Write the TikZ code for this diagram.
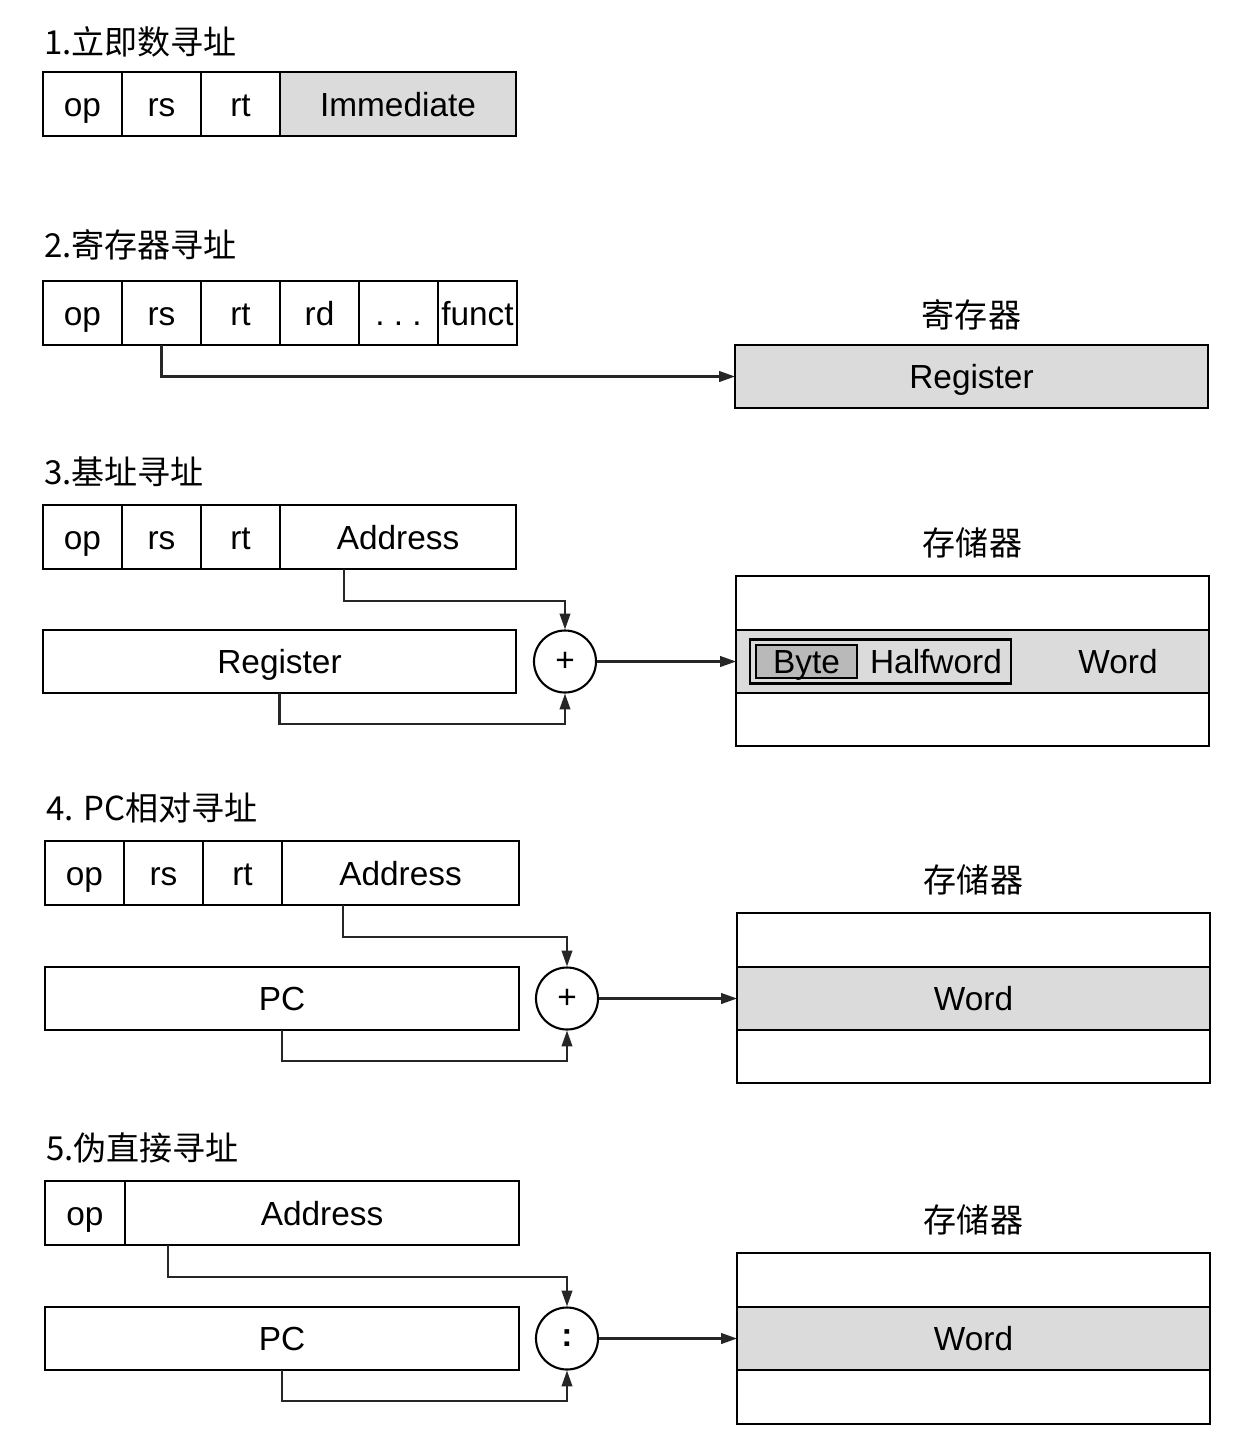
\documentclass[tikz,border=0pt]{standalone}
\usepackage{fontspec}
\setmainfont{Liberation Sans}
\newfontfamily\cjk{Noto Sans CJK SC}
\usetikzlibrary{positioning,arrows.meta}

\begin{document}
\begin{tikzpicture}[
    line width=0.6pt,
    font=\fontsize{9.5pt}{11pt}\selectfont,
    cell/.style={draw, outer sep=0pt, inner sep=0pt, minimum height=0.64cm, minimum width=0.79cm, text height=0.8em, text depth=0.1em},
    greycell/.style={fill=gray!28},
    wide/.style={draw, outer sep=0pt, inner sep=0pt, minimum height=0.63cm, minimum width=4.73cm, text height=0.8em, text depth=0.1em},
    adder/.style={circle, draw, fill=white, minimum size=0.62cm, inner sep=0pt},
    heading/.style={anchor=west, inner sep=0pt, font=\cjk\fontsize{9.4pt}{11pt}\selectfont},
    lab/.style={inner sep=0pt, font=\cjk\fontsize{9.4pt}{11pt}\selectfont},
    arr/.style={-{Triangle[length=4.5pt,width=3pt]}, draw=black!85}
]
    \useasboundingbox (0,0) rectangle (12.52,-14.48);

    % 1. immediate
    \node[heading] (t1) at (0.43,-0.42) {1.立即数寻址};
    \node[cell, anchor=north west] (op1) at (0.43,-0.72) {op};
    \node[cell, right=0pt of op1] (rs1) {rs};
    \node[cell, right=0pt of rs1] (rt1) {rt};
    \node[cell, greycell, minimum width=2.36cm, right=0pt of rt1] (imm1) {Immediate};

    % 2. register
    \node[heading] (t2) at (0.43,-2.45) {2.寄存器寻址};
    \node[cell, anchor=north west] (op2) at (0.43,-2.81) {op};
    \node[cell, right=0pt of op2] (rs2) {rs};
    \node[cell, right=0pt of rs2] (rt2) {rt};
    \node[cell, right=0pt of rt2] (rd2) {rd};
    \node[cell, right=0pt of rd2] (dots2) {.\ .\ .};
    \node[cell, right=0pt of dots2] (funct2) {funct};
    \node[wide, greycell, anchor=north west] (reg2) at (7.35,-3.45) {Register};
    \node[lab, above=0.14cm of reg2] (l2) {寄存器};
    \draw[arr] (rs2.south) |- (reg2.west);

    % 3. base
    \node[heading] (t3) at (0.43,-4.72) {3.基址寻址};
    \node[cell, anchor=north west] (op3) at (0.43,-5.05) {op};
    \node[cell, right=0pt of op3] (rs3) {rs};
    \node[cell, right=0pt of rs3] (rt3) {rt};
    \node[cell, minimum width=2.36cm, right=0pt of rt3] (addr3) {Address};
    \node[wide, anchor=north west] (reg3) at (0.43,-6.30) {Register};
    \node[adder] (add3) at (5.65,-6.615) {+};
    \node[wide, minimum height=0.54cm, anchor=north west] (mem3a) at (7.36,-5.76) {};
    \node[wide, greycell, below=0pt of mem3a] (mem3b) {};
    \node[wide, minimum height=0.53cm, below=0pt of mem3b] (mem3c) {};
    \node[lab, above=0.17cm of mem3a] (l3) {存储器};
    \node[draw, greycell, outer sep=0pt, minimum width=2.61cm, minimum height=0.44cm, anchor=west] (half3) at ([xshift=0.14cm]mem3b.west) {};
    \node[draw, fill=gray!55, outer sep=0pt, inner sep=0pt, minimum width=1.01cm, minimum height=0.33cm, text height=0.8em, text depth=0.1em, anchor=west] (byte3) at ([xshift=0.06cm]half3.west) {Byte};
    \node[inner sep=0pt, text height=0.8em, text depth=0.1em] (hw3) at (9.36,-6.615) {Halfword};
    \node[inner sep=0pt, text height=0.8em, text depth=0.1em] (word3) at (11.18,-6.615) {Word};
    \draw[arr] ([xshift=0.64cm]addr3.south west) -- ++(0,-0.32) -| (add3.north);
    \draw[arr] (reg3.south) -- ++(0,-0.31) -| (add3.south);
    \draw[arr] (add3.east) -- (add3.east -| mem3b.west);

    % 4. PC-relative
    \node[heading] (t4) at (0.45,-8.08) {4. PC相对寻址};
    \node[cell, anchor=north west] (op4) at (0.45,-8.41) {op};
    \node[cell, right=0pt of op4] (rs4) {rs};
    \node[cell, right=0pt of rs4] (rt4) {rt};
    \node[cell, minimum width=2.37cm, right=0pt of rt4] (addr4) {Address};
    \node[wide, minimum width=4.74cm, anchor=north west] (pc4) at (0.45,-9.67) {PC};
    \node[adder] (add4) at (5.67,-9.985) {+};
    \node[wide, minimum height=0.54cm, anchor=north west] (mem4a) at (7.37,-9.13) {};
    \node[wide, greycell, below=0pt of mem4a] (mem4b) {Word};
    \node[wide, minimum height=0.53cm, below=0pt of mem4b] (mem4c) {};
    \node[lab, above=0.17cm of mem4a] (l4) {存储器};
    \draw[arr] ([xshift=0.61cm]addr4.south west) -- ++(0,-0.32) -| (add4.north);
    \draw[arr] (pc4.south) -- ++(0,-0.31) -| (add4.south);
    \draw[arr] (add4.east) -- (add4.east -| mem4b.west);

    % 5. pseudo-direct
    \node[heading] (t5) at (0.45,-11.48) {5.伪直接寻址};
    \node[cell, minimum width=0.80cm, anchor=north west] (op5) at (0.45,-11.81) {op};
    \node[cell, minimum width=3.94cm, right=0pt of op5] (addr5) {Address};
    \node[wide, minimum width=4.74cm, anchor=north west] (pc5) at (0.45,-13.07) {PC};
    \node[adder, font=\bfseries\fontsize{9.5pt}{11pt}\selectfont] (cat5) at (5.67,-13.385) {:};
    \node[wide, minimum height=0.54cm, anchor=north west] (mem5a) at (7.37,-12.53) {};
    \node[wide, greycell, below=0pt of mem5a] (mem5b) {Word};
    \node[wide, minimum height=0.54cm, below=0pt of mem5b] (mem5c) {};
    \node[lab, above=0.17cm of mem5a] (l5) {存储器};
    \draw[arr] ([xshift=0.43cm]addr5.south west) -- ++(0,-0.32) -| (cat5.north);
    \draw[arr] (pc5.south) -- ++(0,-0.31) -| (cat5.south);
    \draw[arr] (cat5.east) -- (cat5.east -| mem5b.west);

\end{tikzpicture}
\end{document}
